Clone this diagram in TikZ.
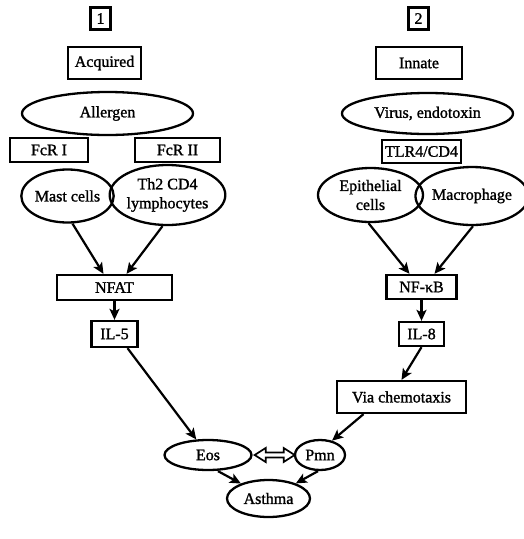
\documentclass[tikz,border=0pt]{standalone}
\usepackage{fontspec}
\setmainfont{Liberation Serif}[FakeBold=1.3]
\usetikzlibrary{shapes.geometric,arrows.meta}
\begin{document}
\begin{tikzpicture}[x=1pt,y=-1pt,
  every node/.style={font=\fontsize{16}{19}\selectfont, inner sep=0pt, align=center},
  box/.style={draw, line width=2.3pt, rectangle},
  oval/.style={draw, line width=2.3pt, ellipse},
  arr/.style={line width=2.2pt, -{Stealth[length=11pt,width=10pt,inset=2.5pt]}},
  dblarr/.style={line width=1.7pt, line join=miter}]
\useasboundingbox (0,0) rectangle (523,539);
% left column
\node[box, minimum width=20, minimum height=22] (n1) at (100.5,18.5) {1};
\node[box, minimum width=73, minimum height=32] (acq) at (104.5,63) {Acquired};
\node[oval, minimum width=171, minimum height=43] (all) at (107.5,113.5) {Allergen};
\node[box, minimum width=78, minimum height=24] (fc1) at (49,150) {FcR I};
\node[box, minimum width=85, minimum height=24] (fc2) at (177.5,150) {FcR II};
\node[oval, minimum width=91, minimum height=53] (mast) at (67.5,196) {Mast cells};
\node[oval, minimum width=109, minimum height=60] (th2) at (167.5,195) {Th2 CD4\\lymphocytes};
\node[box, minimum width=115, minimum height=25] (nfat) at (114.5,287.5) {NFAT};
\node[box, minimum width=46, minimum height=26] (il5) at (114.5,334) {IL-5};
% right column
\node[box, minimum width=20, minimum height=22] (n2) at (418.5,18.5) {2};
\node[box, minimum width=86, minimum height=32] (inn) at (419,63) {Innate};
\node[oval, minimum width=171, minimum height=41] (vir) at (427.5,113.5) {Virus, endotoxin};
\node[box, minimum width=79, minimum height=23] (tlr) at (421.5,151.5) {TLR4/CD4};
\node[oval, minimum width=105, minimum height=54] (epi) at (370.5,195) {Epithelial\\cells};
\node[oval, minimum width=101, minimum height=58] (mac) at (472,196) {Macrophage};
\node[box, minimum width=70, minimum height=24] (nfkb) at (421.5,287) {NF-κB};
\node[box, minimum width=45, minimum height=24] (il8) at (421.5,334) {IL-8};
\node[box, minimum width=129, minimum height=32] (via) at (401.5,397) {Via chemotaxis};
% bottom
\node[oval, minimum width=87, minimum height=30] (eos) at (208,455) {Eos};
\node[oval, minimum width=50, minimum height=30] (pmn) at (320,455) {Pmn};
\node[oval, minimum width=83, minimum height=37] (ast) at (268.5,498.5) {Asthma};
% connectors
\draw[arr] ([xshift=5pt]mast.south) -- ([xshift=-11pt]nfat.north);
\draw[arr] ([xshift=-5pt]th2.south) -- ([xshift=12pt]nfat.north);
\draw[arr] (nfat.south) -- (il5.north);
\draw[arr] ([xshift=13pt]il5.south) -- (eos);
\draw[arr] ([xshift=-2pt]epi.south) -- ([xshift=-12pt]nfkb.north);
\draw[arr] ([xshift=1pt]mac.south) -- ([xshift=13pt]nfkb.north);
\draw[arr] (nfkb.south) -- (il8.north);
\draw[arr] (il8.south) -- (via.north);
\draw[arr] ([xshift=-38pt]via.south) -- (pmn.50);
\draw[arr] ([xshift=10pt]eos.south) -- (ast);
\draw[arr] ([xshift=-2pt]pmn.south) -- (ast);
% hollow double arrow between Eos and Pmn
\coordinate (da) at ([xshift=2pt]eos.east);
\draw[dblarr] (da) -- ++(11,-7) -- ++(0,4.5) -- ++(18,0) -- ++(0,-4.5)
  -- ++(11,7) -- ++(-11,7) -- ++(0,-4.5) -- ++(-18,0) -- ++(0,4.5) -- cycle;
\end{tikzpicture}
\end{document}
